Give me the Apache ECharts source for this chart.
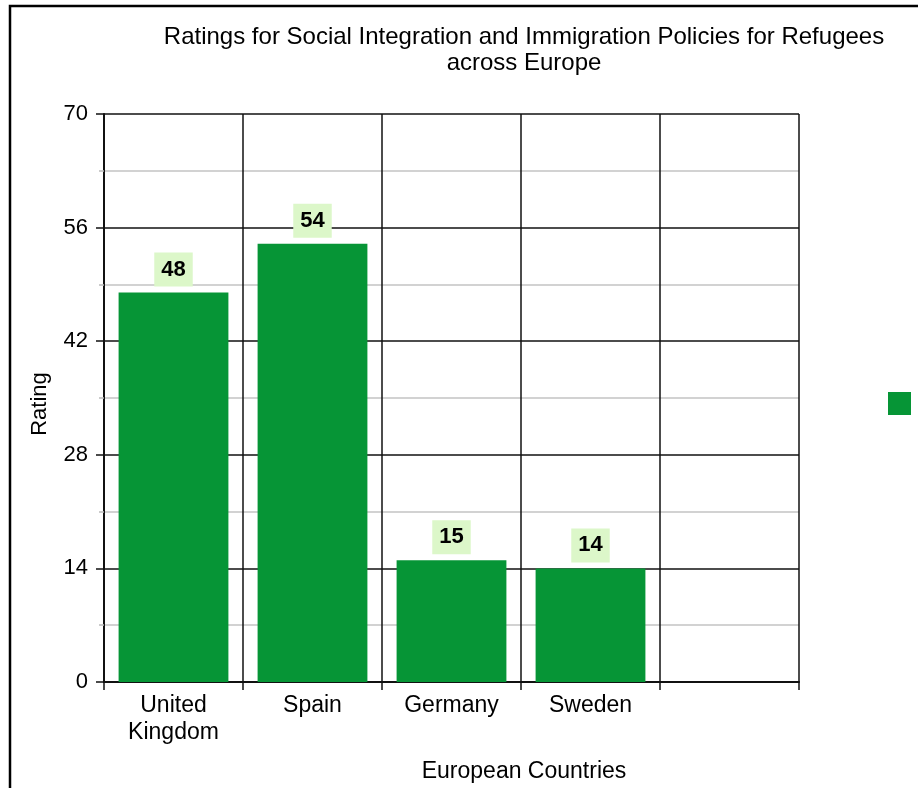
<!DOCTYPE html>
<html>
<head>
<meta charset="utf-8">
<script src="https://cdn.jsdelivr.net/npm/echarts@6/dist/echarts.min.js"></script>
<style>
html,body{margin:0;padding:0;background:#fff;}
#chart{width:918px;height:788px;}
</style>
</head>
<body>
<div id="chart"></div>
<script>
var categories = ['United\nKingdom', 'Spain', 'Germany', 'Sweden', ''];
var ratings = [48, 54, 15, 14, '-'];
var yTicks = {min: 0, max: 70, interval: 14};
var titleText = 'Ratings for Social Integration and Immigration Policies for Refugees\nacross Europe';
var xName = 'European Countries';
var yName = 'Rating';

var FONT = '"Liberation Sans", Arial, Helvetica, sans-serif';
var chart = echarts.init(document.getElementById('chart'), null, {renderer: 'canvas'});
chart.setOption({
  animation: false,
  backgroundColor: '#fff',
  textStyle: {fontFamily: FONT},
  title: [{
    text: titleText,
    left: 524, top: 24, textAlign: 'center', padding: 0,
    textStyle: {fontSize: 24, fontWeight: 'normal', color: '#000', lineHeight: 26, fontFamily: FONT}
  }, {
    text: xName,
    left: 524, top: 760, textAlign: 'center', padding: 0,
    textStyle: {fontSize: 23, fontWeight: 'normal', color: '#000', fontFamily: FONT}
  }],
  legend: {
    left: 888, top: 392, padding: 0,
    icon: 'rect', itemWidth: 23, itemHeight: 23,
    formatter: function () { return ''; },
    data: [yName]
  },
  graphic: [{
    type: 'rect', z: 100, silent: true,
    shape: {x: 10, y: 6, width: 2000, height: 2000},
    style: {fill: 'none', stroke: '#000', lineWidth: 2.5}
  }],
  grid: {left: 104, right: 119, top: 114, bottom: 106, containLabel: false},
  xAxis: {
    type: 'category',
    data: categories,
    boundaryGap: true,
    axisLine: {show: true, lineStyle: {color: '#111', width: 2}},
    axisTick: {show: true, length: 8, alignWithLabel: false, lineStyle: {color: '#111', width: 1.5}},
    axisLabel: {fontSize: 23, color: '#000', lineHeight: 27, margin: 10, interval: 0, fontFamily: FONT},
    splitLine: {show: true, interval: 0, lineStyle: {color: '#111', width: 1.5}}
  },
  yAxis: {
    type: 'value',
    min: yTicks.min, max: yTicks.max, interval: yTicks.interval,
    name: yName, nameLocation: 'middle', nameGap: 53,
    nameTextStyle: {fontSize: 22, color: '#000', fontFamily: FONT, padding: [0, 12, 0, 0]},
    axisLine: {show: true, lineStyle: {color: '#111', width: 2}},
    axisTick: {show: true, length: 8, lineStyle: {color: '#111', width: 1.5}},
    minorTick: {show: true, splitNumber: 2, length: 5, lineStyle: {color: '#bbb', width: 1.5}},
    axisLabel: {fontSize: 22, color: '#000', margin: 16, fontFamily: FONT},
    splitLine: {show: true, lineStyle: {color: '#111', width: 1.5}},
    minorSplitLine: {show: true, lineStyle: {color: '#c4c4c4', width: 1.5}}
  },
  series: [{
    name: yName,
    type: 'bar',
    data: ratings,
    barCategoryGap: '21%',
    itemStyle: {color: '#069536'},
    label: {
      show: true, position: 'top', distance: 6,
      fontSize: 22, fontWeight: 'bold', color: '#000',
      backgroundColor: '#dcf7c9', padding: [6, 7, 6, 7], lineHeight: 22,
      fontFamily: FONT
    }
  }]
});
</script>
</body>
</html>
